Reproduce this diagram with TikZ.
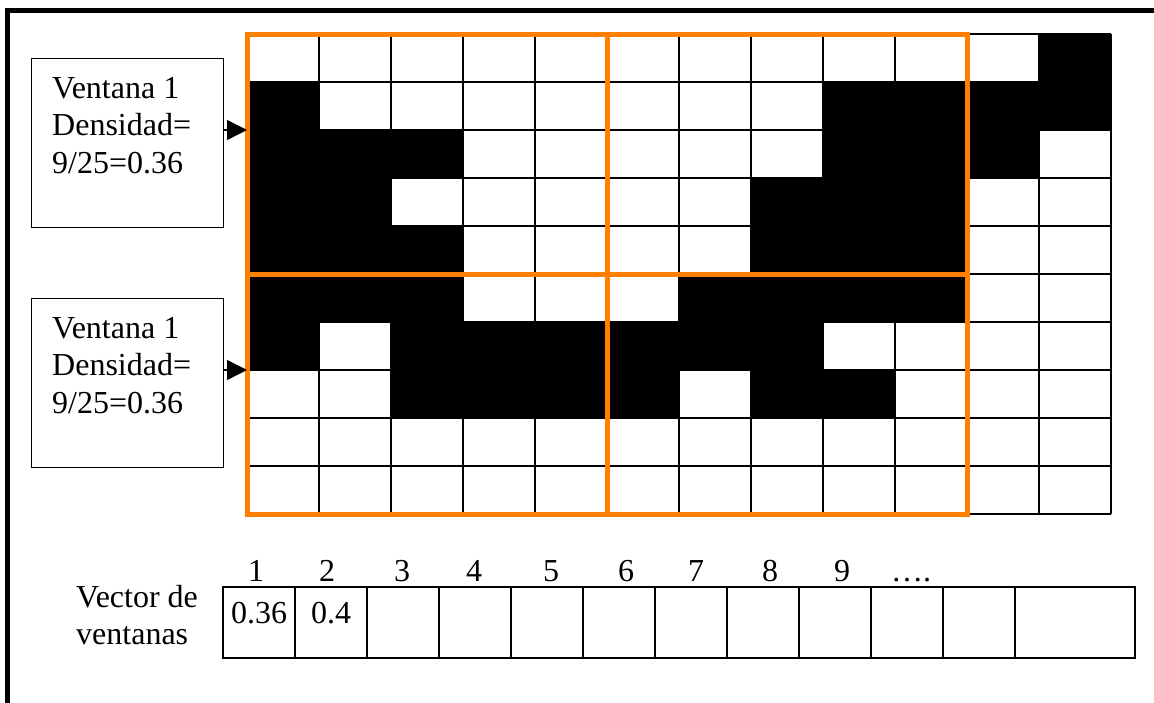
\documentclass[tikz,border=0pt]{standalone}
\usepackage{fontspec}
\setmainfont{Liberation Serif}
\usetikzlibrary{positioning, arrows.meta}
\definecolor{winorange}{RGB}{255, 128, 0}
\newcommand{\pixcell}[2]{
\fill[black] (247+72*#1,34+48*#2) rectangle ++(72,48);
}

\begin{document}
\begin{tikzpicture}[x=1pt, y=-1pt, font=\fontsize{32}{37.5}\selectfont,
    winbox/.style={draw, line width=1.3pt, anchor=north west, minimum width=192pt, minimum height=169pt, inner sep=0pt},
    wintext/.style={anchor=north west, align=left, inner sep=0pt, xshift=21pt, yshift=-19pt},
    vcell/.style={draw, line width=1.3pt, minimum width=72pt, minimum height=71pt, inner sep=0pt, text depth=20pt},
    pointer/.style={line width=1.3pt, -{Triangle[length=20pt, width=20pt]}}]
    \useasboundingbox (0,0) rectangle (1154,702);
    \draw[line width=5pt] (7.5,710) -- (7.5,10.5) -- (1160,10.5);
    \foreach \r/\cols in {0/{11}, 1/{0,8,9,10,11}, 2/{0,1,2,8,9,10}, 3/{0,1,7,8,9}, 4/{0,1,2,7,8,9}, 5/{0,1,2,6,7,8,9}, 6/{0,2,3,4,5,6,7}, 7/{2,3,4,5,7,8}}
    {
        \foreach \c in \cols
        {
            \pixcell{\c}{\r}
        }
    }
    \foreach \i in {0,...,12}
        \draw[line width=1.3pt] (247+72*\i,34) -- (247+72*\i,514);
    \foreach \j in {0,...,10}
        \draw[line width=1.3pt] (247,34+48*\j) -- (1111,34+48*\j);
    \foreach \i in {0,1}
        \foreach \j in {0,1}
            \draw[winorange, line width=5pt] (247+360*\i,34+240*\j) rectangle ++(360,240);
    \coordinate (w1) at (247,130);
    \coordinate (w2) at (247,370);
    \node[winbox] (ven1) at (31,58) {};
    \node[wintext] (ven1txt) at (ven1.north west) {Ventana 1\\Densidad=\\9/25=0.36};
    \node[winbox] (ven2) at (31,298) {};
    \node[wintext] (ven2txt) at (ven2.north west) {Ventana 1\\Densidad=\\9/25=0.36};
    \draw[pointer] (ven1.east |- w1) -- (w1);
    \draw[pointer] (ven2.east |- w2) -- (w2);
    \node[vcell] (v1) at (259,622.5) {0.36};
    \node[vcell] (v2) at (331,622.5) {0.4};
    \foreach \i in {3,...,11}
        \node[vcell] (v\i) at (187+72*\i,622.5) {};
    \node[vcell, minimum width=120pt] (v12) at (1075,622.5) {};
    \foreach \n/\x in {1/256, 2/327, 3/402, 4/474, 5/551, 6/626, 7/696, 8/770, 9/842}
        \node[anchor=base] (num\n) at (\x,581) {\n};
    \node[anchor=base] (numdots) at (911,581) {….};
    \node[anchor=north west, align=left, inner sep=0pt] (veclabel) at (76,585) {Vector de\\ventanas};
\end{tikzpicture}
\end{document}
